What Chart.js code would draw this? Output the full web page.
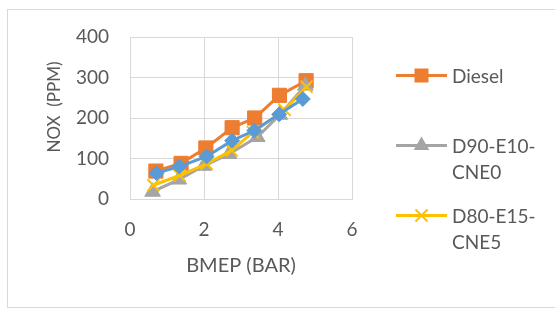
<!DOCTYPE html>
<html>
<head>
<meta charset="utf-8">
<script src="https://cdn.jsdelivr.net/npm/chart.js@4/dist/chart.umd.min.js"></script>
<style>
  html, body { margin: 0; padding: 0; background: #fff; }
  #wrap { position: relative; width: 555px; height: 309px; overflow: hidden; }
  #frame { position: absolute; left: 7px; top: 9px; width: 600px; height: 297px; border: 1px solid #d9d9d9; }
  canvas { position: absolute; left: 0; top: 0; }
</style>
</head>
<body>
<div id="wrap">
  <div id="frame"></div>
  <canvas id="nox" width="555" height="309"></canvas>
</div>
<script>
// NOx vs BMEP, one x/y pair per fuel
const seriesNames = ['Diesel', 'D90-E10-CNE0', 'D80-E15-CNE5', 'D70-E20-CNE10'];
const legendText  = [['Diesel'], ['D90-E10-', 'CNE0'], ['D80-E15-', 'CNE5']];

const dieselX = [0.70, 1.38, 2.05, 2.76, 3.37, 4.04, 4.76];
const dieselY = [69, 88, 126, 176, 200, 256, 292];
const e10X    = [0.61, 1.32, 2.00, 2.68, 3.44, 4.05, 4.74];
const e10Y    = [18, 48, 82, 111, 153, 208, 280];
const e15X    = [0.63, 1.34, 2.07, 2.75, 3.32, 4.18, 4.77];
const e15Y    = [34, 58, 87, 120, 165, 220, 277];
const e20X    = [0.72, 1.33, 2.07, 2.76, 3.36, 4.03, 4.67];
const e20Y    = [64, 80, 105, 144, 169, 209, 247];

const xTicks = [0, 2, 4, 6];
const yTicks = [0, 100, 200, 300, 400];

const txt = '#595959';
const gc  = '#d9d9d9';
const colors = ['#ed7d31', '#a5a5a5', '#ffc000', '#5b9bd5'];
const styles = ['rect', 'triangle', 'crossRot', 'rectRot'];
const radii  = [10, 9, 8.5, 7.5];

const pts = (xs, ys) => xs.map((x, i) => ({ x: x, y: ys[i] }));
const allX = [dieselX, e10X, e15X, e20X];
const allY = [dieselY, e10Y, e15Y, e20Y];

const datasets = seriesNames.map((name, i) => ({
  label: name,
  data: pts(allX[i], allY[i]),
  showLine: true,
  borderColor: colors[i], backgroundColor: colors[i],
  borderWidth: 3, tension: 0,
  pointStyle: styles[i], pointRadius: radii[i], pointHoverRadius: radii[i],
  pointBackgroundColor: colors[i], pointBorderColor: colors[i],
  pointBorderWidth: styles[i] === 'crossRot' ? 2 : 1,
  order: 3 - i
}));

// side legend (the 4th entry is clipped in the original) + rotated y title
const sideLegend = {
  id: 'sideLegend',
  afterDraw(chart) {
    const ctx = chart.ctx;
    const rows = [75.5, 145.5, 215.5];
    ctx.save();
    rows.forEach((y, i) => {
      ctx.strokeStyle = colors[i];
      ctx.fillStyle = colors[i];
      ctx.lineWidth = 3;
      ctx.beginPath(); ctx.moveTo(396, y); ctx.lineTo(447, y); ctx.stroke();
      const cx = 421.5;
      ctx.beginPath();
      if (styles[i] === 'rect') {
        ctx.rect(cx - 7, y - 7, 14, 14); ctx.fill();
      } else if (styles[i] === 'triangle') {
        const r = 9;
        ctx.moveTo(cx, y - r);
        ctx.lineTo(cx + r * 0.866, y + r / 2);
        ctx.lineTo(cx - r * 0.866, y + r / 2);
        ctx.closePath(); ctx.fill();
      } else {
        const d = 6;
        ctx.lineWidth = 2;
        ctx.moveTo(cx - d, y - d); ctx.lineTo(cx + d, y + d);
        ctx.moveTo(cx + d, y - d); ctx.lineTo(cx - d, y + d);
        ctx.stroke();
      }
      ctx.fillStyle = txt;
      ctx.font = '19px Lato';
      ctx.textBaseline = 'middle';
      ctx.textAlign = 'left';
      legendText[i].forEach((line, k) => ctx.fillText(line, 452, y + 1 + k * 26.5));
    });
    ctx.translate(55, 107);
    ctx.rotate(-Math.PI / 2);
    ctx.fillStyle = txt;
    ctx.font = '17px Lato';
    ctx.textAlign = 'center';
    ctx.textBaseline = 'middle';
    ctx.fillText('NOX  (PPM)', 0, 0);
    ctx.restore();
  }
};

new Chart(document.getElementById('nox'), {
  type: 'scatter',
  data: { datasets: datasets },
  plugins: [sideLegend],
  options: {
    responsive: false, animation: false,
    layout: { padding: { left: 0, top: 37, right: 203, bottom: 0 } },
    plugins: { legend: { display: false }, tooltip: { enabled: false } },
    scales: {
      x: {
        type: 'linear', min: xTicks[0], max: xTicks[xTicks.length - 1],
        afterBuildTicks: s => { s.ticks = xTicks.map(v => ({ value: v })); },
        afterFit: s => { s.height = 110; },
        ticks: { color: txt, font: { family: 'Lato', size: 19 }, padding: 19 },
        grid: { color: gc, drawTicks: false },
        border: { color: gc },
        title: { display: true, text: 'BMEP (BAR)', color: txt, font: { family: 'Lato', size: 20 }, padding: { top: 0, bottom: 31 } }
      },
      y: {
        type: 'linear', min: yTicks[0], max: yTicks[yTicks.length - 1],
        afterBuildTicks: s => { s.ticks = yTicks.map(v => ({ value: v })); },
        afterFit: s => { s.width = 130; },
        ticks: { color: txt, font: { family: 'Lato', size: 19 }, padding: 21 },
        grid: { color: gc, drawTicks: false },
        border: { color: gc }
      }
    }
  }
});
</script>
</body>
</html>
